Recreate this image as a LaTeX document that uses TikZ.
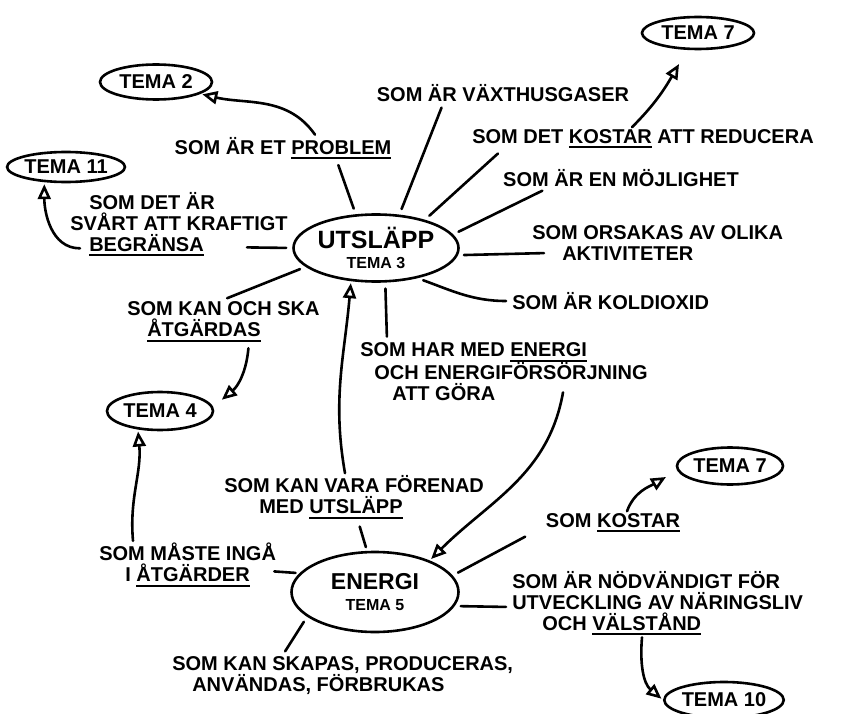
\documentclass[tikz,border=0pt]{standalone}
\usepackage{fontspec}
\setmainfont{Liberation Sans}
\usetikzlibrary{shapes.geometric, arrows.meta}

\newcommand{\ulin}[1]{\setbox0=\hbox{#1}\rlap{\rule[-5pt]{\wd0}{2pt}}\box0\relax}

\begin{document}
\begin{tikzpicture}[x=1pt, y=1pt, line width=2.6pt, line cap=round,
    tema/.style={draw, ellipse, inner sep=0pt, align=center, font=\fontsize{20}{22}\selectfont\bfseries},
    lbl/.style={inner sep=1pt, align=left, font=\fontsize{20}{21}\selectfont\bfseries},
    arr/.style={-{Triangle[open, length=15pt, width=13pt]}, shorten >=2pt},
    gap/.style={shorten <=6pt, shorten >=4pt}]
\useasboundingbox (0,0) rectangle (851,-714);

\node[tema, minimum width=157pt, minimum height=67pt] (utslapp) at (376,-248)
    {{\fontsize{25}{25}\selectfont UTSLÄPP}\\[-2pt]{\fontsize{16}{16}\selectfont TEMA 3}};
\node[tema, minimum width=167pt, minimum height=80pt] (energi) at (375,-592)
    {{\fontsize{23}{23}\selectfont ENERGI}\\[-1pt]{\fontsize{16}{16}\selectfont TEMA 5}};
\node[tema, minimum width=112pt, minimum height=35pt] (tema_2) at (156,-82) {TEMA 2};
\node[tema, minimum width=98pt, minimum height=30pt] (tema_11) at (66,-167) {TEMA 11};
\node[tema, minimum width=112pt, minimum height=32pt] (tema_7a) at (698,-33) {TEMA 7};
\node[tema, minimum width=106pt, minimum height=38pt] (tema_4) at (160,-411) {TEMA 4};
\node[tema, minimum width=106pt, minimum height=37pt] (tema_7b) at (730,-466) {TEMA 7};
\node[tema, minimum width=113pt, minimum height=36pt] (tema_10) at (724,-700) {TEMA 10};

\node[lbl] (l_vaxthus) at (503,-93) {SOM ÄR VÄXTHUSGASER};
\node[lbl] (l_problem) at (283,-148) {SOM ÄR ET \ulin{PROBLEM}};
\node[lbl] (l_reducera) at (643,-139) {SOM DET \ulin{KOSTAR} ATT REDUCERA};
\node[lbl] (l_mojlighet) at (621,-178) {SOM ÄR EN MÖJLIGHET};
\node[lbl, anchor=west] (l_begransa) at (68,-224)
    {\hspace*{19pt}SOM DET ÄR\\SVÅRT ATT KRAFTIGT\\\hspace*{19pt}\ulin{BEGRÄNSA}};
\node[lbl, anchor=west] (l_orsakas) at (530,-243) {SOM ORSAKAS AV OLIKA\\\hspace*{30pt}AKTIVITETER};
\node[lbl, anchor=west] (l_koldioxid) at (510,-301) {SOM ÄR KOLDIOXID};
\node[lbl, anchor=west] (l_atgardas) at (125,-322) {SOM KAN OCH SKA\\\hspace*{20pt}\ulin{ÅTGÄRDAS}};
\node[lbl, anchor=west] (l_energi) at (358,-372)
    {SOM HAR MED \ulin{ENERGI}\\\hspace*{14pt}OCH ENERGIFÖRSÖRJNING\\\hspace*{32pt}ATT GÖRA};
\node[lbl, anchor=west] (l_forenad) at (222,-497) {SOM KAN VARA FÖRENAD\\\hspace*{35pt}MED \ulin{UTSLÄPP}};
\node[lbl, anchor=west] (l_maste) at (97,-565) {SOM MÅSTE INGÅ\\\hspace*{26pt}I \ulin{ÅTGÄRDER}};
\node[lbl] (l_kostar) at (613,-523) {SOM \ulin{KOSTAR}};
\node[lbl, anchor=west] (l_nodvandigt) at (510,-603)
    {SOM ÄR NÖDVÄNDIGT FÖR\\UTVECKLING AV NÄRINGSLIV\\\hspace*{30pt}OCH \ulin{VÄLSTÅND}};
\node[lbl, anchor=west] (l_skapas) at (170,-676) {SOM KAN SKAPAS, PRODUCERAS,\\\hspace*{20pt}ANVÄNDAS, FÖRBRUKAS};

\path[gap]
    (utslapp.121) edge ([xshift=54pt]l_problem.south)
    (utslapp.55) edge ([xshift=-60pt]l_vaxthus.south)
    (utslapp.30) edge ([xshift=31pt]l_reducera.south west)
    (utslapp.10) edge ([xshift=45pt]l_mojlighet.south west)
    (utslapp.-5) edge ([xshift=18pt,yshift=-10pt]l_orsakas.west)
    (utslapp.-36) edge[out=-20,in=180] (l_koldioxid.west)
    (utslapp.-75) edge ([xshift=29pt]l_energi.north west)
    (utslapp.west) edge ([xshift=175pt,yshift=11pt]l_begransa.south west)
    (utslapp.195) edge (l_atgardas.north)
    ([xshift=136pt]l_forenad.south west) edge (energi.101)
    ([xshift=-10pt,yshift=-6pt]l_maste.east) edge (energi.166)
    (energi.200) edge ([xshift=113pt]l_skapas.north west)
    (energi.12) edge ([xshift=-15pt]l_kostar.south west)
    (energi.-10) edge ([yshift=-4pt]l_nodvandigt.west);

\path[arr]
    ([xshift=32pt]l_problem.north) edge[out=125,in=-13] (tema_2.-15)
    ([xshift=12pt,yshift=10pt]l_begransa.south west) edge[out=180,in=-90] (tema_11.-145)
    ([xshift=25pt,yshift=-4pt]l_atgardas.south) edge[out=-95,in=40] ([xshift=6pt,yshift=10pt]tema_4.east)
    ([xshift=123pt]l_forenad.north west) edge[out=100,in=-95] (utslapp.-127)
    ([xshift=36pt]l_maste.north west) edge[out=95,in=-85] (tema_4.-140)
    ([xshift=205pt,yshift=11pt]l_energi.south west) edge[out=-100,in=45] (energi.30)
    ([xshift=14pt]l_kostar.north) edge[out=70,in=210] ([xshift=-8pt,yshift=-10pt]tema_7b.west)
    ([xshift=-11pt]l_reducera.north) edge[out=45,in=-120] ([xshift=-18pt,yshift=-12pt]tema_7a.south)
    ([xshift=132pt]l_nodvandigt.south west) edge[out=-95,in=140] (tema_10.west);
\end{tikzpicture}
\end{document}
